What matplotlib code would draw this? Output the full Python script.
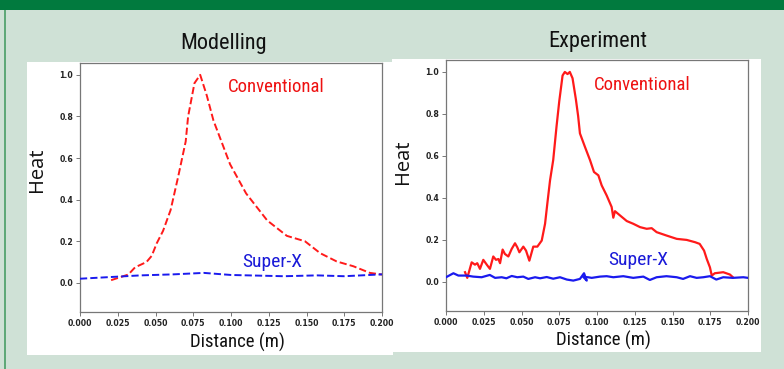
import matplotlib
matplotlib.use("Agg")
import matplotlib.pyplot as plt
from matplotlib.patches import Rectangle
from matplotlib import font_manager

# ---- data ----
mod_conv_x = [0.0206, 0.032, 0.0365, 0.044, 0.0475, 0.0508, 0.055, 0.060, 0.065, 0.070,
              0.0716, 0.0758, 0.0796, 0.0840, 0.0884, 0.0994, 0.110, 0.124, 0.137,
              0.149, 0.159, 0.170, 0.181, 0.192, 0.200]
mod_conv_y = [0.013, 0.04, 0.075, 0.10, 0.13, 0.19, 0.25, 0.35, 0.51, 0.68,
              0.80, 0.96, 1.00, 0.90, 0.78, 0.57, 0.43, 0.30, 0.226,
              0.20, 0.143, 0.103, 0.08, 0.048, 0.04]
mod_sx_x = [0.0, 0.02, 0.04, 0.062, 0.082, 0.10, 0.135, 0.157, 0.175, 0.200]
mod_sx_y = [0.02, 0.028, 0.036, 0.041, 0.048, 0.038, 0.032, 0.036, 0.032, 0.041]

exp_conv_x = [0.0126, 0.0141, 0.0170, 0.0192, 0.0207, 0.0225, 0.0247, 0.0274, 0.0291, 0.0313,
              0.0331, 0.0347, 0.0358, 0.0375, 0.0390, 0.0413, 0.0435, 0.0457, 0.0472, 0.0486,
              0.0512, 0.0530, 0.0552, 0.0578, 0.0605, 0.0634, 0.0656, 0.0671, 0.0689, 0.0710,
              0.0732, 0.0750, 0.0772, 0.0787, 0.0805, 0.0820, 0.0838, 0.0860, 0.0875, 0.0887,
              0.0920, 0.0954, 0.0980, 0.1009, 0.1031, 0.1064, 0.1097, 0.1108, 0.1119, 0.1152,
              0.1197, 0.1240, 0.1285, 0.1329, 0.1362, 0.1395, 0.1460, 0.1528, 0.1594, 0.1650,
              0.1680, 0.1709, 0.1727, 0.1748, 0.1760, 0.1780, 0.1836, 0.1880, 0.1900]
exp_conv_y = [0.045, 0.018, 0.092, 0.081, 0.088, 0.061, 0.104, 0.077, 0.061, 0.120,
              0.104, 0.108, 0.088, 0.153, 0.132, 0.120, 0.156, 0.183, 0.164, 0.140,
              0.167, 0.148, 0.100, 0.167, 0.167, 0.196, 0.276, 0.372, 0.483, 0.58,
              0.74, 0.86, 0.983, 1.0, 0.99, 1.0, 0.97, 0.87, 0.79, 0.707,
              0.643, 0.579, 0.523, 0.507, 0.459, 0.411, 0.356, 0.305, 0.336, 0.316,
              0.289, 0.276, 0.260, 0.252, 0.255, 0.236, 0.220, 0.204, 0.199, 0.188,
              0.180, 0.148, 0.108, 0.068, 0.029, 0.040, 0.045, 0.034, 0.021]
exp_sx_x = [0.0, 0.0049, 0.0082, 0.0137, 0.0180, 0.0236, 0.0290, 0.0325, 0.0369, 0.0400,
            0.0435, 0.0472, 0.0512, 0.0545, 0.0590, 0.0623, 0.0667, 0.0710, 0.0755, 0.0800,
            0.0843, 0.0887, 0.0914, 0.0932, 0.0910, 0.0940, 0.0965, 0.1020, 0.1064, 0.1108,
            0.1174, 0.1240, 0.1307, 0.1350, 0.1395, 0.1460, 0.1528, 0.1570, 0.1616, 0.1660,
            0.1704, 0.1748, 0.1790, 0.1836, 0.1900, 0.1969, 0.2000]
exp_sx_y = [0.021, 0.040, 0.029, 0.029, 0.024, 0.021, 0.032, 0.018, 0.021, 0.016,
            0.027, 0.021, 0.024, 0.013, 0.021, 0.016, 0.022, 0.014, 0.021, 0.010,
            0.005, 0.013, 0.040, 0.005, 0.022, 0.021, 0.018, 0.024, 0.026, 0.021,
            0.026, 0.018, 0.024, 0.008, 0.021, 0.026, 0.021, 0.013, 0.026, 0.018,
            0.021, 0.026, 0.010, 0.021, 0.018, 0.021, 0.018]

x_ticks = [0.000, 0.025, 0.050, 0.075, 0.100, 0.125, 0.150, 0.175, 0.200]
y_ticks = [0.0, 0.2, 0.4, 0.6, 0.8, 1.0]
titles = ["Modelling", "Experiment"]

avail = {f.name for f in font_manager.fontManager.ttflist}
cond = None
for cand in ["Roboto Condensed", "Liberation Sans Narrow", "Open Sans Condensed", "Noto Sans", "Open Sans"]:
    if cand in avail:
        cond = cand
        break
if cond is None:
    cond = "DejaVu Sans"
FONT = [cond, "DejaVu Sans"]
WIDE = ["Open Sans", "Noto Sans", "DejaVu Sans"]

W, H = 784, 369
fig = plt.figure(figsize=(W / 100, H / 100), dpi=100)
fig.patch.set_facecolor("#cfe1d6")

def px_rect(x0, y0, x1, y1):
    return [x0 / W, 1 - y1 / H, (x1 - x0) / W, (y1 - y0) / H]

# green header bar and left line
fig.add_artist(Rectangle((0, 1 - 10 / H), 1, 10 / H, transform=fig.transFigure,
                         facecolor="#017a3e", edgecolor="none", zorder=-5))
fig.add_artist(Rectangle((4 / W, 0), 2 / W, 1 - 10 / H, transform=fig.transFigure,
                         facecolor="#5fa878", edgecolor="none", zorder=-5))

# white panels
fig.add_artist(Rectangle((27 / W, 1 - 355 / H), (393 - 27) / W, (355 - 62) / H,
                         transform=fig.transFigure, facecolor="white", edgecolor="none", zorder=-5))
fig.add_artist(Rectangle((392 / W, 1 - 352 / H), (761 - 392) / W, (352 - 59) / H,
                         transform=fig.transFigure, facecolor="white", edgecolor="none", zorder=-5))

panels = [
    dict(ax=(80, 63, 382, 312), title=(224, 43), ylab=(37, 170), xlab=(237, 342),
         conv=(228, 87), sx=(242, 262), ls="--", lw=1.4,
         cx=mod_conv_x, cy=mod_conv_y, sxx=mod_sx_x, sxy=mod_sx_y),
    dict(ax=(446, 60, 748, 311), title=(598, 42), ylab=(403, 162), xlab=(603, 340),
         conv=(594, 85), sx=(608, 260), ls="-", lw=1.6,
         cx=exp_conv_x, cy=exp_conv_y, sxx=exp_sx_x, sxy=exp_sx_y),
]

for i, p in enumerate(panels):
    x0, y0, x1, y1 = p["ax"]
    ax = fig.add_axes(px_rect(x0, y0, x1, y1))
    ax.set_zorder(2)
    ax.set_facecolor("white")
    ax.plot(p["cx"], p["cy"], color="#ff1a1a", ls=p["ls"], lw=p["lw"], zorder=3)
    ax.plot(p["sxx"], p["sxy"], color="#1a1aee", ls=p["ls"], lw=p["lw"], zorder=3)
    ax.set_xlim(0, 0.2)
    ax.set_ylim(-0.14, 1.057)
    ax.set_xticks(x_ticks)
    ax.set_xticklabels([f"{v:.3f}" for v in x_ticks])
    ax.set_yticks(y_ticks)
    ax.set_yticklabels([f"{v:.1f}" for v in y_ticks])
    ax.tick_params(labelsize=5.6, length=3, width=0.7, pad=2, colors="#777777", labelcolor="#222222")
    for lab in ax.get_xticklabels() + ax.get_yticklabels():
        lab.set_fontweight("bold")
    for s in ax.spines.values():
        s.set_linewidth(0.9)
        s.set_color("#777777")

    fig.text(p["title"][0] / W, 1 - p["title"][1] / H, titles[i], ha="center", va="center",
             fontsize=16, family=FONT, color="#111111", zorder=5)
    fig.text(p["ylab"][0] / W, 1 - p["ylab"][1] / H, "Heat", ha="center", va="center",
             rotation=90, fontsize=14.5, family=WIDE, color="#111111", zorder=5)
    fig.text(p["xlab"][0] / W, 1 - p["xlab"][1] / H, "Distance (m)", ha="center", va="center",
             fontsize=13.5, family=FONT, color="#111111", zorder=5)
    fig.text(p["conv"][0] / W, 1 - p["conv"][1] / H, "Conventional", ha="left", va="center",
             fontsize=13.5, family=FONT, color="#ee1111", zorder=5)
    fig.text(p["sx"][0] / W, 1 - p["sx"][1] / H, "Super-X", ha="left", va="center",
             fontsize=14, family=FONT, color="#1a1ad8", zorder=5)

fig.savefig("out.png", dpi=100, facecolor=fig.get_facecolor())
